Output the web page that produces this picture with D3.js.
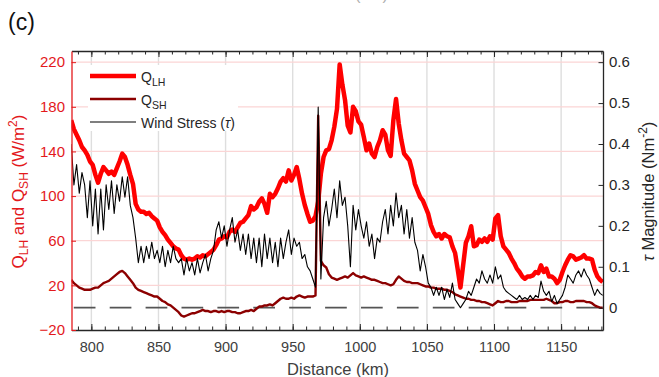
<!DOCTYPE html>
<html>
<head>
<meta charset="utf-8">
<script src="https://cdn.jsdelivr.net/npm/d3@7"></script>
<style>
  body { margin: 0; background: #fff; }
  svg { display: block; font-family: "Liberation Sans", Arial, Helvetica, sans-serif; }
</style>
</head>
<body>
<div id="chart"></div>
<script>
// sample positions along the track (km), one every 2 km from 785 to 1181
const distance = d3.range(785, 1182, 2);

// latent heat flux (W/m^2)
const qLH = [
  168, 160, 155, 150, 144, 141, 137, 131, 128, 119,   // 785
  112, 120, 126, 123, 120, 122, 119, 125, 131, 138,   // 805
  135, 128, 119, 111, 93, 88, 86, 86, 84, 85,         // 825
  82, 80, 78, 72, 68, 65, 61, 58, 55, 53,             // 845
  52, 47, 44, 43, 44, 43, 44, 46, 45, 47,             // 865
  46, 48, 50, 52, 56, 61, 62, 64, 63, 68,             // 885
  70, 68, 72, 76, 77, 80, 83, 91, 88, 90,             // 905
  95, 98, 93, 85, 102, 99, 102, 107, 113, 116,        // 925
  113, 123, 114, 119, 126, 115, 102, 92, 84, 77,      // 945
  78, 82, 95, 120, 135, 141, 142, 150, 162, 178,      // 965
  218, 200, 186, 163, 157, 180, 176, 167, 164, 153,   // 985
  141, 147, 138, 135, 144, 150, 159, 155, 141, 136,   // 1005
  168, 187, 165, 150, 138, 135, 132, 123, 111, 105,   // 1025
  99, 96, 90, 84, 74, 68, 64, 66, 62, 66,             // 1045
  64, 63, 55, 49, 34, 18, 38, 58, 64, 73,             // 1065
  55, 56, 61, 59, 62, 59, 64, 61, 80, 83,             // 1085
  64, 55, 52, 49, 44, 40, 35, 32, 28, 26,             // 1105
  28, 28, 29, 32, 31, 38, 32, 35, 28, 28,             // 1125
  26, 22, 25, 32, 38, 43, 47, 46, 43, 44,             // 1145
  45, 47, 44, 44, 43, 34, 28, 25, 23                  // 1165
];

// sensible heat flux (W/m^2)
const qSH = [
  25, 22, 20, 18, 17, 16, 16, 16, 17, 18,
  18, 20, 22, 23, 24, 26, 28, 30, 32, 33,
  31, 28, 25, 22, 18, 16, 15, 14, 13, 12,
  11, 10, 10, 8, 6, 5, 3, 2, 0, -2,
  -4, -7, -8, -7, -6, -5, -5, -4, -3, -2,
  -3, -3, -4, -3, -3, -4, -3, -4, -3, -3,
  -4, -4, -5, -5, -4, -3, -3, -2, -3, -1,
  1, 1, 2, 2, 3, 2, 4, 6, 8, 9,
  8, 8, 9, 8, 10, 11, 10, 9, 10, 10,
  10, 11, 172, 42, 38, 36, 30, 27, 26, 25,
  26, 27, 28, 27, 29, 31, 29, 28, 27, 28,
  27, 26, 25, 25, 24, 23, 22, 22, 21, 20,
  21, 25, 28, 26, 24, 23, 23, 22, 22, 22,
  21, 20, 19, 19, 18, 18, 17, 17, 17, 16,
  16, 15, 14, 12, 11, 10, 9, 8, 8, 7,
  7, 6, 6, 5, 5, 4, 3, 2, 4, 6,
  5, 5, 6, 6, 5, 5, 5, 6, 6, 6,
  6, 7, 7, 7, 7, 7, 7, 8, 7, 6,
  4, 4, 5, 5, 6, 6, 5, 5, 6, 6,
  6, 6, 5, 5, 4, 2, 1, 0, 0
];

// wind stress magnitude (N/m^2)
const tau = [
  0.40, 0.30, 0.35, 0.28, 0.33, 0.30, 0.22, 0.31, 0.20, 0.29,
  0.18, 0.29, 0.19, 0.30, 0.24, 0.31, 0.23, 0.30, 0.26, 0.32,
  0.27, 0.32, 0.25, 0.22, 0.17, 0.11, 0.15, 0.11, 0.15, 0.12,
  0.16, 0.12, 0.14, 0.11, 0.15, 0.10, 0.14, 0.11, 0.15, 0.12,
  0.11, 0.12, 0.08, 0.12, 0.09, 0.11, 0.08, 0.12, 0.085, 0.11,
  0.13, 0.09, 0.12, 0.14, 0.19, 0.21, 0.17, 0.20, 0.15, 0.19,
  0.22, 0.16, 0.19, 0.14, 0.18, 0.13, 0.18, 0.12, 0.17, 0.11,
  0.17, 0.10, 0.18, 0.12, 0.17, 0.11, 0.16, 0.10, 0.17, 0.12,
  0.16, 0.19, 0.13, 0.17, 0.15, 0.16, 0.12, 0.13, 0.10, 0.09,
  0.07, 0.05, 0.49, 0.07, 0.22, 0.26, 0.20, 0.24, 0.29, 0.22,
  0.31, 0.25, 0.27, 0.20, 0.10, 0.25, 0.19, 0.24, 0.20, 0.17,
  0.21, 0.15, 0.18, 0.12, 0.17, 0.16, 0.21, 0.24, 0.18, 0.25,
  0.20, 0.28, 0.22, 0.25, 0.18, 0.24, 0.17, 0.22, 0.16, 0.14,
  0.09, 0.13, 0.10, 0.06, 0.05, 0.03, 0.05, 0.03, 0.05, 0.02,
  0.045, 0.025, 0.06, 0.02, 0.01, 0.0, 0.01, 0.02, 0.04, 0.03,
  0.05, 0.07, 0.06, 0.09, 0.07, 0.06, 0.08, 0.06, 0.10, 0.07,
  0.08, 0.05, 0.04, 0.035, 0.03, 0.025, 0.02, 0.03, 0.02, 0.025,
  0.02, 0.03, 0.02, 0.03, 0.025, 0.065, 0.04, 0.03, 0.04, 0.015,
  0.03, 0.01, 0.02, 0.03, 0.05, 0.08, 0.07, 0.06, 0.08, 0.09,
  0.075, 0.095, 0.08, 0.07, 0.05, 0.03, 0.045, 0.035, 0.03
];

const xTicks = [800, 850, 900, 950, 1000, 1050, 1100, 1150];
const xMinorTicks = d3.range(790, 1181, 10);
const leftTicks = [-20, 20, 60, 100, 140, 180, 220];
const rightTicks = [0, 0.1, 0.2, 0.3, 0.4, 0.5, 0.6];

const width = 659;
const height = 377;
const plot = {left: 71.5, right: 603, top: 51, bottom: 330};
const red = '#ff0000';
const darkRed = '#8c0000';
const axisRed = '#e3191c';
const axisGray = '#262626';

const svg = d3.select('#chart').append('svg')
  .attr('width', width)
  .attr('height', height);

svg.append('rect').attr('width', width).attr('height', height).attr('fill', '#fff');

const x = d3.scaleLinear().domain([785.2, 1181.2]).range([plot.left, plot.right]);
const yL = d3.scaleLinear().domain([-20, 230]).range([plot.bottom, plot.top]);
// right axis shares the left one's zero, 220 W/m^2 <-> 0.6 N/m^2
const yR = d3.scaleLinear().domain([-20 * 0.6 / 220, 230 * 0.6 / 220]).range([plot.bottom, plot.top]);

// leftover x label of the panel above, cut by the top edge
svg.append('text')
  .attr('x', 337).attr('y', 0)
  .attr('text-anchor', 'middle')
  .attr('font-size', 16.5)
  .attr('fill', '#b0b0b0')
  .text('Distance (km)');

svg.append('text')
  .attr('x', 8).attr('y', 30)
  .attr('font-size', 23)
  .attr('fill', '#111')
  .text('(c)');

// grid
const grid = svg.append('g');
grid.selectAll('line.v')
  .data(xTicks)
  .join('line')
  .attr('class', 'v')
  .attr('x1', d => x(d)).attr('x2', d => x(d))
  .attr('y1', plot.top).attr('y2', plot.bottom)
  .attr('stroke', '#dedede')
  .attr('stroke-width', 1.4);
grid.selectAll('line.h')
  .data(leftTicks.filter(d => d > -20))
  .join('line')
  .attr('class', 'h')
  .attr('x1', plot.left).attr('x2', plot.right)
  .attr('y1', d => yL(d)).attr('y2', d => yL(d))
  .attr('stroke', '#fbd5d5')
  .attr('stroke-width', 1.3);

// zero reference
svg.append('line')
  .attr('x1', plot.left).attr('x2', plot.right)
  .attr('y1', yL(0)).attr('y2', yL(0))
  .attr('stroke', '#555')
  .attr('stroke-width', 1.8)
  .attr('stroke-dasharray', '21.7,14.2')
  .attr('stroke-dashoffset', 33.6);

svg.append('clipPath').attr('id', 'clip')
  .append('rect')
  .attr('x', plot.left).attr('y', plot.top)
  .attr('width', plot.right - plot.left).attr('height', plot.bottom - plot.top);

const lines = svg.append('g').attr('clip-path', 'url(#clip)');
const lineL = d3.line().x((d, i) => x(distance[i])).y(d => yL(d));
const lineR = d3.line().x((d, i) => x(distance[i])).y(d => yR(d));

lines.append('path')
  .attr('d', lineL(qLH))
  .attr('fill', 'none').attr('stroke', red)
  .attr('stroke-width', 4.5).attr('stroke-linejoin', 'round');
lines.append('path')
  .attr('d', lineL(qSH))
  .attr('fill', 'none').attr('stroke', darkRed)
  .attr('stroke-width', 2.4).attr('stroke-linejoin', 'round');
lines.append('path')
  .attr('d', lineR(tau))
  .attr('fill', 'none').attr('stroke', '#000')
  .attr('stroke-width', 1.1).attr('stroke-linejoin', 'round');

// axes, ticks pointing inward
const bottom = svg.append('g')
  .attr('transform', `translate(0,${plot.bottom})`)
  .call(d3.axisBottom(x).tickValues(xTicks).tickSizeInner(-6).tickSizeOuter(0).tickPadding(12)
    .tickFormat(d3.format('d')));
svg.append('g')
  .attr('transform', `translate(0,${plot.bottom})`)
  .call(d3.axisBottom(x).tickValues(xMinorTicks).tickSizeInner(-3.5).tickSizeOuter(0).tickFormat(''))
  .call(g => g.select('.domain').remove());
svg.append('g')
  .attr('transform', `translate(0,${plot.top})`)
  .call(d3.axisTop(x).tickValues(xTicks).tickSizeInner(-6).tickSizeOuter(0).tickFormat(''));
svg.append('g')
  .attr('transform', `translate(0,${plot.top})`)
  .call(d3.axisTop(x).tickValues(xMinorTicks).tickSizeInner(-3.5).tickSizeOuter(0).tickFormat(''))
  .call(g => g.select('.domain').remove());

const right = svg.append('g')
  .attr('transform', `translate(${plot.right},0)`)
  .call(d3.axisRight(yR).tickValues(rightTicks).tickSizeInner(-4.5).tickSizeOuter(0).tickPadding(6)
    .tickFormat(d => d === 0 ? '0' : d3.format('.1f')(d)));

const left = svg.append('g')
  .attr('transform', `translate(${plot.left},0)`)
  .call(d3.axisLeft(yL).tickValues(leftTicks).tickSizeInner(-4.5).tickSizeOuter(0).tickPadding(6.5));

svg.selectAll('.tick line').attr('stroke', axisGray).attr('stroke-width', 1);
svg.selectAll('.domain').attr('stroke', axisGray).attr('stroke-width', 1.3);
bottom.selectAll('text').attr('font-size', 14.5).attr('fill', '#404040');
right.selectAll('text').attr('font-size', 15).attr('fill', axisGray);
left.selectAll('text').attr('font-size', 15).attr('fill', axisRed);
left.selectAll('.tick line').attr('stroke', axisRed);
left.select('.domain').attr('stroke', axisRed);
svg.selectAll('g').attr('font-family', null);

// axis titles
svg.append('text')
  .attr('x', 338).attr('y', 375)
  .attr('text-anchor', 'middle')
  .attr('font-size', 16.5)
  .attr('fill', '#404040')
  .text('Distance (km)');

const yTitle = svg.append('text')
  .attr('transform', 'translate(23.5,191.5) rotate(-90)')
  .attr('text-anchor', 'middle')
  .attr('font-size', 17)
  .attr('fill', axisRed);
yTitle.append('tspan').text('Q');
yTitle.append('tspan').attr('font-size', 12).attr('dy', 4).text('LH');
yTitle.append('tspan').attr('dy', -4).text(' and Q');
yTitle.append('tspan').attr('font-size', 12).attr('dy', 4).text('SH');
yTitle.append('tspan').attr('dy', -4).text(' (W/m');
yTitle.append('tspan').attr('font-size', 12).attr('dy', -7).text('2');
yTitle.append('tspan').attr('dy', 7).text(')');

const rTitle = svg.append('text')
  .attr('transform', 'translate(654,191.5) rotate(-90)')
  .attr('text-anchor', 'middle')
  .attr('font-size', 16.5)
  .attr('fill', axisGray);
rTitle.append('tspan').attr('font-style', 'italic').text('\u03c4');
rTitle.append('tspan').text(' Magnitude (Nm');
rTitle.append('tspan').attr('font-size', 12).attr('dy', -7).text('-2');
rTitle.append('tspan').attr('dy', 7).text(')');

// legend
const legendItems = [
  {name: 'Q', sub: 'LH', color: red, w: 4.5},
  {name: 'Q', sub: 'SH', color: darkRed, w: 2.4},
  {name: 'Wind Stress (', tau: true, color: '#000', w: 1.1}
];
const legend = svg.append('g');
legend.append('rect')
  .attr('x', 88).attr('y', 65)
  .attr('width', 150).attr('height', 66)
  .attr('fill', '#fff');
const item = legend.selectAll('g.item')
  .data(legendItems)
  .join('g')
  .attr('class', 'item')
  .attr('transform', (d, i) => `translate(0,${76 + i * 23})`);
item.append('line')
  .attr('x1', 90).attr('x2', 136)
  .attr('stroke', d => d.color)
  .attr('stroke-width', d => d.w);
const label = item.append('text')
  .attr('x', 141).attr('y', 5.5)
  .attr('font-size', 14)
  .attr('fill', '#262626');
label.append('tspan').text(d => d.name);
label.filter(d => d.sub).append('tspan').attr('font-size', 10.5).attr('dy', 4).text(d => d.sub);
label.filter(d => d.tau).append('tspan').attr('font-style', 'italic').text('\u03c4');
label.filter(d => d.tau).append('tspan').text(')');
</script>
</body>
</html>
